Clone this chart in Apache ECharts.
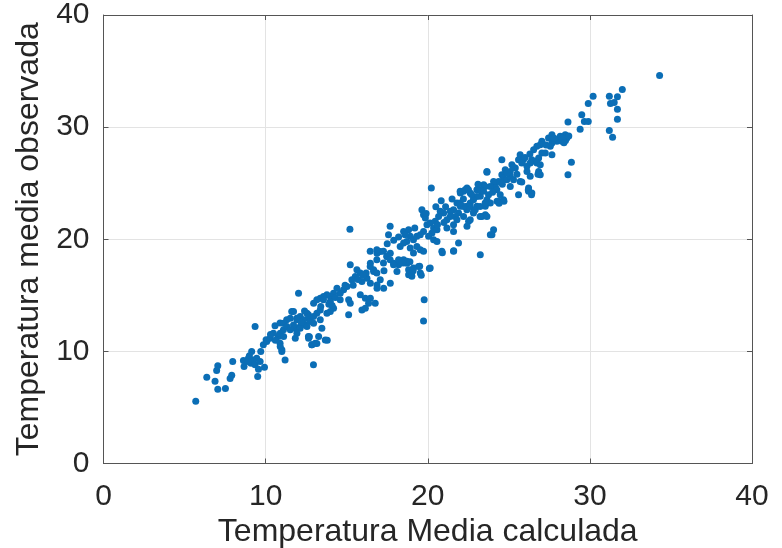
<!DOCTYPE html>
<html>
<head>
<meta charset="utf-8">
<script src="https://cdn.jsdelivr.net/npm/echarts@6/dist/echarts.min.js"></script>
<style>html,body{margin:0;padding:0;background:#fff}#c{width:782px;height:548px}</style>
</head>
<body>
<div id="c"></div>
<script>
// [Temperatura Media calculada, Temperatura media observada]
var grupoBajo = [
[5.69,5.55],[7.05,6.62],[7.52,6.68],[6.88,7.34],[6.37,7.7],[6.98,8.29],[7.05,8.71],[7.81,7.58],[7.91,7.87],[7.97,9.09],
[8.63,9.18],[8.67,8.65],[8.94,9.39],[9.14,9.99],[9.1,8.95],[9.25,9.24],[9.45,9.39],[9.35,8.8],[9.66,9.09],[9.56,8.41],
[9.93,8.59],[9.51,7.75],[9.35,12.22],[9.86,10.58],[10.03,11.03],[10.28,11.18],[10.58,12.28],[10.89,12.52],[11.1,11.92],[10.79,11.33],
[10.89,10.73],[11.0,10.14],[11.2,9.24],[11.61,13.56],[11.92,12.96],[12.13,12.22],[11.82,12.07],[12.44,12.37],[12.64,13.26],[12.64,11.33],
[10.48,11.62],[10.07,10.88],[11.3,12.81],[12.03,15.19],[12.55,13.41],[12.65,12.96],[12.75,12.66],[12.13,13.11],[12.34,12.81],[11.93,12.81],
[11.72,12.36],[12.13,12.07],[12.55,12.21],[12.96,12.51],[12.65,11.17],[12.85,10.58],[11.52,12.96],[11.72,13.55],[11.11,12.51],[11.31,12.21],
[10.9,11.62],[11.11,11.32],[11.52,11.92],[11.93,11.62],[11.83,11.17],[10.9,10.43],[11.0,9.98],[12.95,8.8],[12.7,11.3],[12.85,10.6],
[12.4,13.6],[12.2,12.6],[10.6,11.0],[10.3,11.5],[9.7,10.0],[9.0,9.6],[8.9,9.1]
];
var grupoMedio = [
[15.22,17.72],[16.46,17.87],[16.87,18.76],[17.07,18.91],[17.48,18.46],[17.69,18.76],[17.9,17.87],[18.2,17.72],[18.51,18.17],[18.72,17.87],
[18.1,17.13],[18.82,16.83],[15.63,17.27],[15.84,16.98],[15.53,16.68],[15.32,16.38],[16.25,16.53],[16.66,17.13],[16.46,16.08],[15.94,16.23],
[17.07,16.38],[16.87,15.93],[17.69,16.08],[16.87,15.64],[17.28,15.64],[15.02,15.79],[14.81,15.49],[14.6,15.19],[14.4,15.64],[14.19,15.19],
[13.99,14.89],[13.78,15.04],[13.57,14.89],[13.37,14.74],[13.16,14.6],[12.96,14.3],[13.57,14.6],[13.99,14.45],[15.12,14.6],[15.22,14.3],
[15.84,15.04],[16.15,14.74],[16.46,14.74],[16.35,14.3],[16.76,14.3],[15.94,13.7],[16.15,13.85],[15.12,13.26],[14.19,13.85],[13.99,13.55],
[13.78,13.41],[13.37,13.7],[13.16,13.41],[12.96,13.11],[13.37,12.81],[13.47,12.07],[13.27,11.32],[13.68,11.02],[13.06,10.73],[13.16,10.7],
[13.8,11.0],[15.2,20.9],[17.68,21.15],[17.58,20.41],[18.51,20.7],[18.82,20.85],[18.92,20.26],[18.71,19.81],[19.12,19.96],[19.33,20.26],
[18.51,19.66],[18.3,19.36],[18.92,19.22],[19.33,19.36],[19.54,19.07],[19.74,18.92],[19.12,18.77],[16.45,18.92],[16.86,19.07],[17.27,18.92],
[17.48,18.47],[16.86,18.17],[17.27,17.88],[17.68,18.17],[17.89,17.73],[18.2,18.17],[18.51,17.88],[18.71,18.03],[18.82,17.28],[19.12,17.43],
[19.43,17.58],[19.54,16.98],[19.02,16.69],[16.66,17.28],[16.45,17.58],[16.86,16.98],[19.64,22.64],[19.74,22.19],[19.85,21.9],[19.95,21.3],
[19.74,20.7],[19.54,20.41],[19.78,14.6],[19.74,12.72],[19.0,16.8],[19.6,16.8],[19.1,17.2],[19.5,17.6],[18.4,17.9],[18.9,18.0],
[13.4,14.0],[13.9,14.2],[14.3,14.8],[14.6,14.6],[14.9,15.9],[15.4,15.9],[15.7,16.4],[14.1,14.1],[17.5,19.6],[17.9,19.9],
[18.2,20.2],[18.6,20.4],[19.2,21.0],[19.9,22.3],[16.2,17.0],[16.0,16.8],[17.3,17.2]
];
var grupoAlto = [
[20.22,24.57],[20.15,21.45],[20.36,21.0],[20.57,20.85],[20.26,20.56],[20.05,20.26],[20.36,19.96],[20.57,19.81],[20.15,17.43],[20.1,17.4],
[20.9,18.8],[21.6,18.97],[21.9,19.66],[20.83,23.44],[21.8,23.23],[22.01,22.94],[21.59,22.64],[21.39,22.49],[21.9,22.34],[21.7,22.04],
[21.39,22.04],[21.18,21.75],[20.98,22.34],[20.77,22.49],[20.67,22.04],[20.46,21.6],[21.18,21.0],[21.59,21.3],[21.8,21.75],[22.21,22.04],
[22.52,21.6],[22.62,21.75],[22.42,21.15],[21.59,20.7],[23.34,22.04],[23.55,22.19],[24.06,20.85],[23.86,20.41],[21.59,18.92],[20.87,18.92],
[23.24,18.62],[23.65,25.97],[24.17,24.72],[23.45,24.87],[23.03,24.42],[22.62,24.13],[22.21,24.28],[22.01,24.13],[22.42,24.57],[22.83,23.68],
[23.24,23.83],[23.65,23.53],[23.86,23.23],[24.27,23.38],[23.55,22.94],[23.03,22.94],[22.62,23.23],[22.42,22.94],[22.83,22.49],[25.7,27.54],
[25.6,27.1],[25.9,27.1],[25.8,26.8],[25.19,26.65],[25.4,26.35],[25.09,26.05],[24.78,26.2],[24.57,27.1],[24.57,25.76],[24.67,25.46],
[24.37,25.16],[24.88,25.31],[25.09,25.61],[25.29,25.31],[25.09,24.71],[25.7,25.16],[25.6,23.97],[23.65,26.05],[24.06,25.16],[23.85,24.71],
[23.54,24.71],[23.23,24.42],[23.44,24.27],[23.03,23.82],[22.82,23.52],[22.62,22.93],[22.93,22.63],[23.23,22.93],[23.54,23.23],[23.75,23.97],
[24.26,24.42],[24.47,23.97],[24.37,23.38],[24.67,23.52],[23.65,22.04],[23.23,22.04],[22.82,22.33],[22.41,22.63],[22.21,22.93],[22.0,24.27],
[22.31,24.42],[22.51,24.42],[22.0,23.23],[23.96,20.4],[24.7,23.4],[24.4,23.2],[25.8,25.1],
[20.5,22.9],[21.1,22.9],[21.5,23.6],[22.2,23.6],[21.0,21.5],[20.6,21.3],[24.9,25.9],[25.3,26.4],[25.5,25.8],[24.0,24.2],
[23.1,24.9],[22.7,24.0],[24.6,24.9]
];
var grupoCima = [
[28.48,29.33],[28.17,29.18],[27.97,28.73],[28.28,28.73],[28.58,29.03],[27.66,29.33],[27.45,29.03],[27.66,28.58],[27.56,28.29],[27.04,28.73],
[26.94,28.43],[26.73,28.29],[26.53,27.99],[27.04,27.69],[27.25,27.69],[27.66,27.54],[26.84,27.24],[26.63,26.95],[26.42,27.1],[26.32,26.8],
[26.73,26.8],[26.94,26.65],[26.84,26.05],[26.94,25.76],[26.12,26.5],[26.12,26.05],[26.32,25.61],[26.22,24.57],[26.42,24.12],[26.22,24.27],
[26.4,23.97],[26.2,24.4],[26.8,25.8],[28.65,25.76],[28.86,26.86],[28.65,30.46],[28.3,29.0],[28.5,28.8],[28.7,29.2],[28.4,28.6],
[29.4,29.8],[29.5,31.1],[29.66,30.5],[29.9,30.5],[29.9,32.1],[30.2,32.75],[31.2,32.75],[31.7,32.7],[31.27,32.1],[31.5,32.2],
[31.7,31.6],[31.7,30.7],[31.2,29.7],[31.4,29.1],[32.0,33.35],[34.3,34.6],
[26.0,27.3],[26.3,27.6],[27.3,28.4],[27.8,29.0]
];
var ticksX = [0, 10, 20, 30, 40];
var ticksY = [0, 10, 20, 30, 40];
var nombreX = 'Temperatura Media calculada';
var nombreY = 'Temperatura media observada';

var puntos = grupoBajo.concat(grupoMedio, grupoAlto, grupoCima);
var fuente = '"Liberation Sans", Arial, Helvetica, sans-serif';
var ejeColor = '#555555';
var textoColor = '#262626';

function ejeBase(pos, ticks, conEtiquetas) {
  return {
    type: 'value', position: pos,
    min: ticks[0], max: ticks[ticks.length - 1], interval: ticks[1] - ticks[0],
    axisLine: { show: true, onZero: false, lineStyle: { color: ejeColor, width: 1 } },
    axisTick: { show: true, inside: true, length: 5, lineStyle: { color: ejeColor } },
    axisLabel: { show: conEtiquetas, color: textoColor, fontFamily: fuente, fontSize: 30 },
    splitLine: { show: conEtiquetas, lineStyle: { color: '#e3e3e3', width: 1 } }
  };
}

var ejeX = ejeBase('bottom', ticksX, true);
ejeX.axisLabel.margin = 18;
ejeX.name = nombreX; ejeX.nameLocation = 'middle'; ejeX.nameGap = 47;
ejeX.nameTextStyle = { color: textoColor, fontFamily: fuente, fontSize: 32 };
var ejeX2 = ejeBase('top', ticksX, false);

var ejeY = ejeBase('left', ticksY, true);
ejeY.axisLabel.margin = 14;
ejeY.name = nombreY; ejeY.nameLocation = 'middle'; ejeY.nameGap = 55;
ejeY.nameTextStyle = { color: textoColor, fontFamily: fuente, fontSize: 32 };
var ejeY2 = ejeBase('right', ticksY, false);

var chart = echarts.init(document.getElementById('c'), null, { renderer: 'canvas' });
chart.setOption({
  animation: false,
  backgroundColor: '#ffffff',
  grid: { left: 103.5, top: 15, right: 30, bottom: 84.5, containLabel: false, outerBoundsMode: 'none' },
  xAxis: [ejeX, ejeX2],
  yAxis: [ejeY, ejeY2],
  series: [{
    type: 'scatter',
    xAxisIndex: 0, yAxisIndex: 0,
    data: puntos,
    symbol: 'circle',
    symbolSize: 7,
    itemStyle: { color: '#0b6eb6', opacity: 1 }
  }]
});
</script>
</body>
</html>
